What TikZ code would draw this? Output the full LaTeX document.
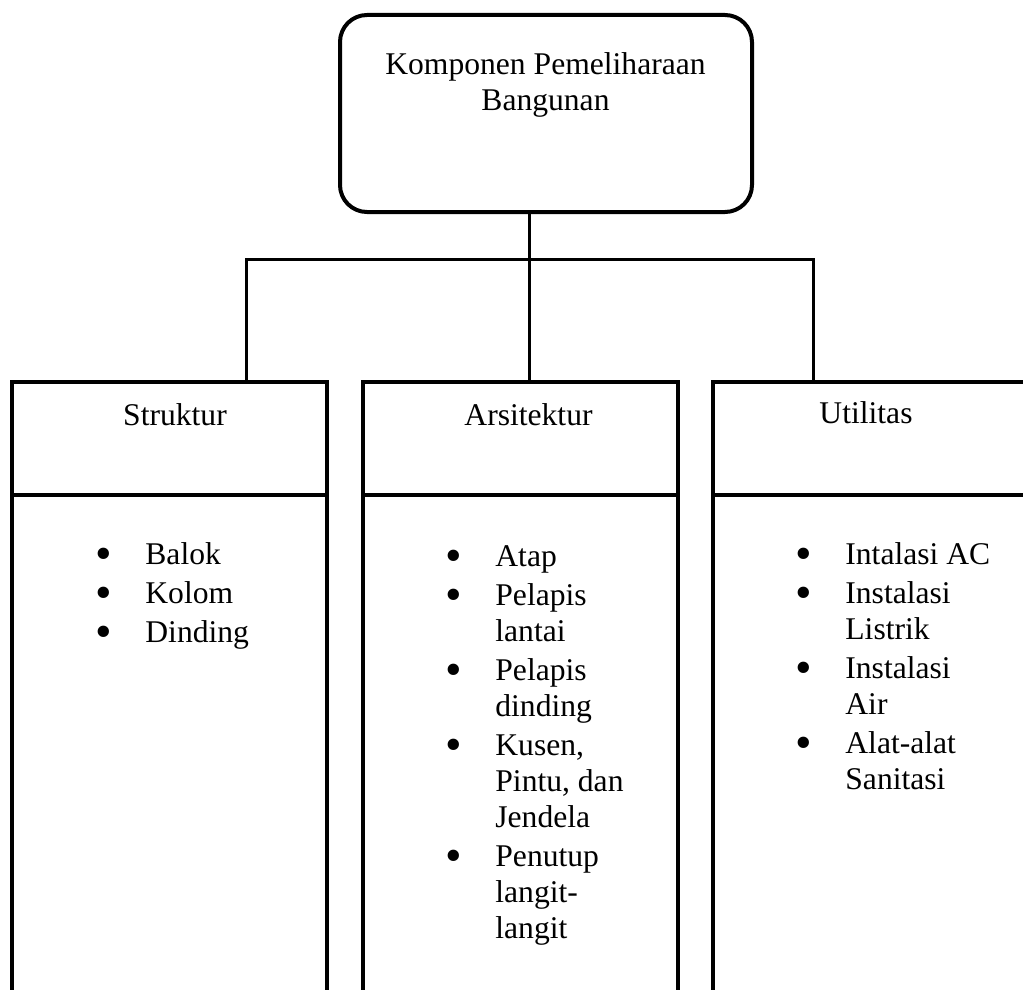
\documentclass[tikz,border=0pt]{standalone}
\usepackage{fontspec}
\setmainfont{Liberation Serif}
\usetikzlibrary{positioning}

\tikzset{
  kotak/.style={draw, line width=1.6pt, minimum width=157.5pt, inner sep=0pt, outer sep=0pt},
  link/.style={line width=1.5pt},
  teks/.style={font=\fontsize{15.8}{18}\selectfont, inner sep=0pt},
  daftar/.style={teks, align=left, anchor=base west}
}
\newcommand\butir{\llap{\smash{\raisebox{-2.5pt}{\fontsize{23.7}{18}\selectfont\textbullet}}\hspace{16.9pt}}}

\begin{document}
\begin{tikzpicture}[x=0.5pt, y=-0.5pt]
    \useasboundingbox (0,0) rectangle (1023,990);
    \clip (0,0) rectangle (1023,990);

    % Kotak utama
    \node[draw, line width=2pt, rounded corners=13.5pt, minimum width=206pt,
          minimum height=98.5pt, inner sep=0pt, outer sep=0pt] (top) at (546,113.5) {};
    \node[teks, align=center, anchor=base] (topText) at (545.5,111)
        {Komponen Pemeliharaan\\Bangunan};

    % Tiga kolom: judul dan isi
    \foreach \nm/\cx/\tx/\ty/\judul in {struk/169.5/175/425/Struktur,
            arsi/520.5/528.5/425/Arsitektur, util/870.5/866/423/Utilitas} {
        \node[kotak, minimum height=56.5pt] (\nm) at (\cx,438.5) {};
        \node[kotak, minimum height=260pt, below=0pt of \nm] (\nm-isi) {};
        \node[teks, anchor=base] (\nm-judul) at (\tx,\ty) {\judul};
    }

    % Daftar butir (anchor base = baris terakhir)
    \node[daftar] (strukList) at (145,642)
        {\butir Balok\\[1.5pt] \butir Kolom\\[1.5pt] \butir Dinding};
    \node[daftar] (arsiList) at (495,938)
        {\butir Atap\\[1.5pt] \butir Pelapis\\ lantai\\[1.5pt]
         \butir Pelapis\\ dinding\\[1.5pt] \butir Kusen,\\ Pintu, dan\\ Jendela\\[1.5pt]
         \butir Penutup\\ langit-\\ langit};
    \node[daftar] (utilList) at (845,789)
        {\butir Intalasi AC\\[1.5pt] \butir Instalasi\\ Listrik\\[1.5pt]
         \butir Instalasi\\ Air\\[1.5pt] \butir Alat-alat\\ Sanitasi};

    % Garis penghubung
    \coordinate (busL) at (246,259);
    \coordinate (busM) at (529,259);
    \coordinate (busR) at (813,259);
    \draw[link] (top.south -| busM) -- (busM |- arsi.north);
    \draw[link] (busL |- struk.north) -- (busL) -- (busR) -- (busR |- util.north);
\end{tikzpicture}
\end{document}
